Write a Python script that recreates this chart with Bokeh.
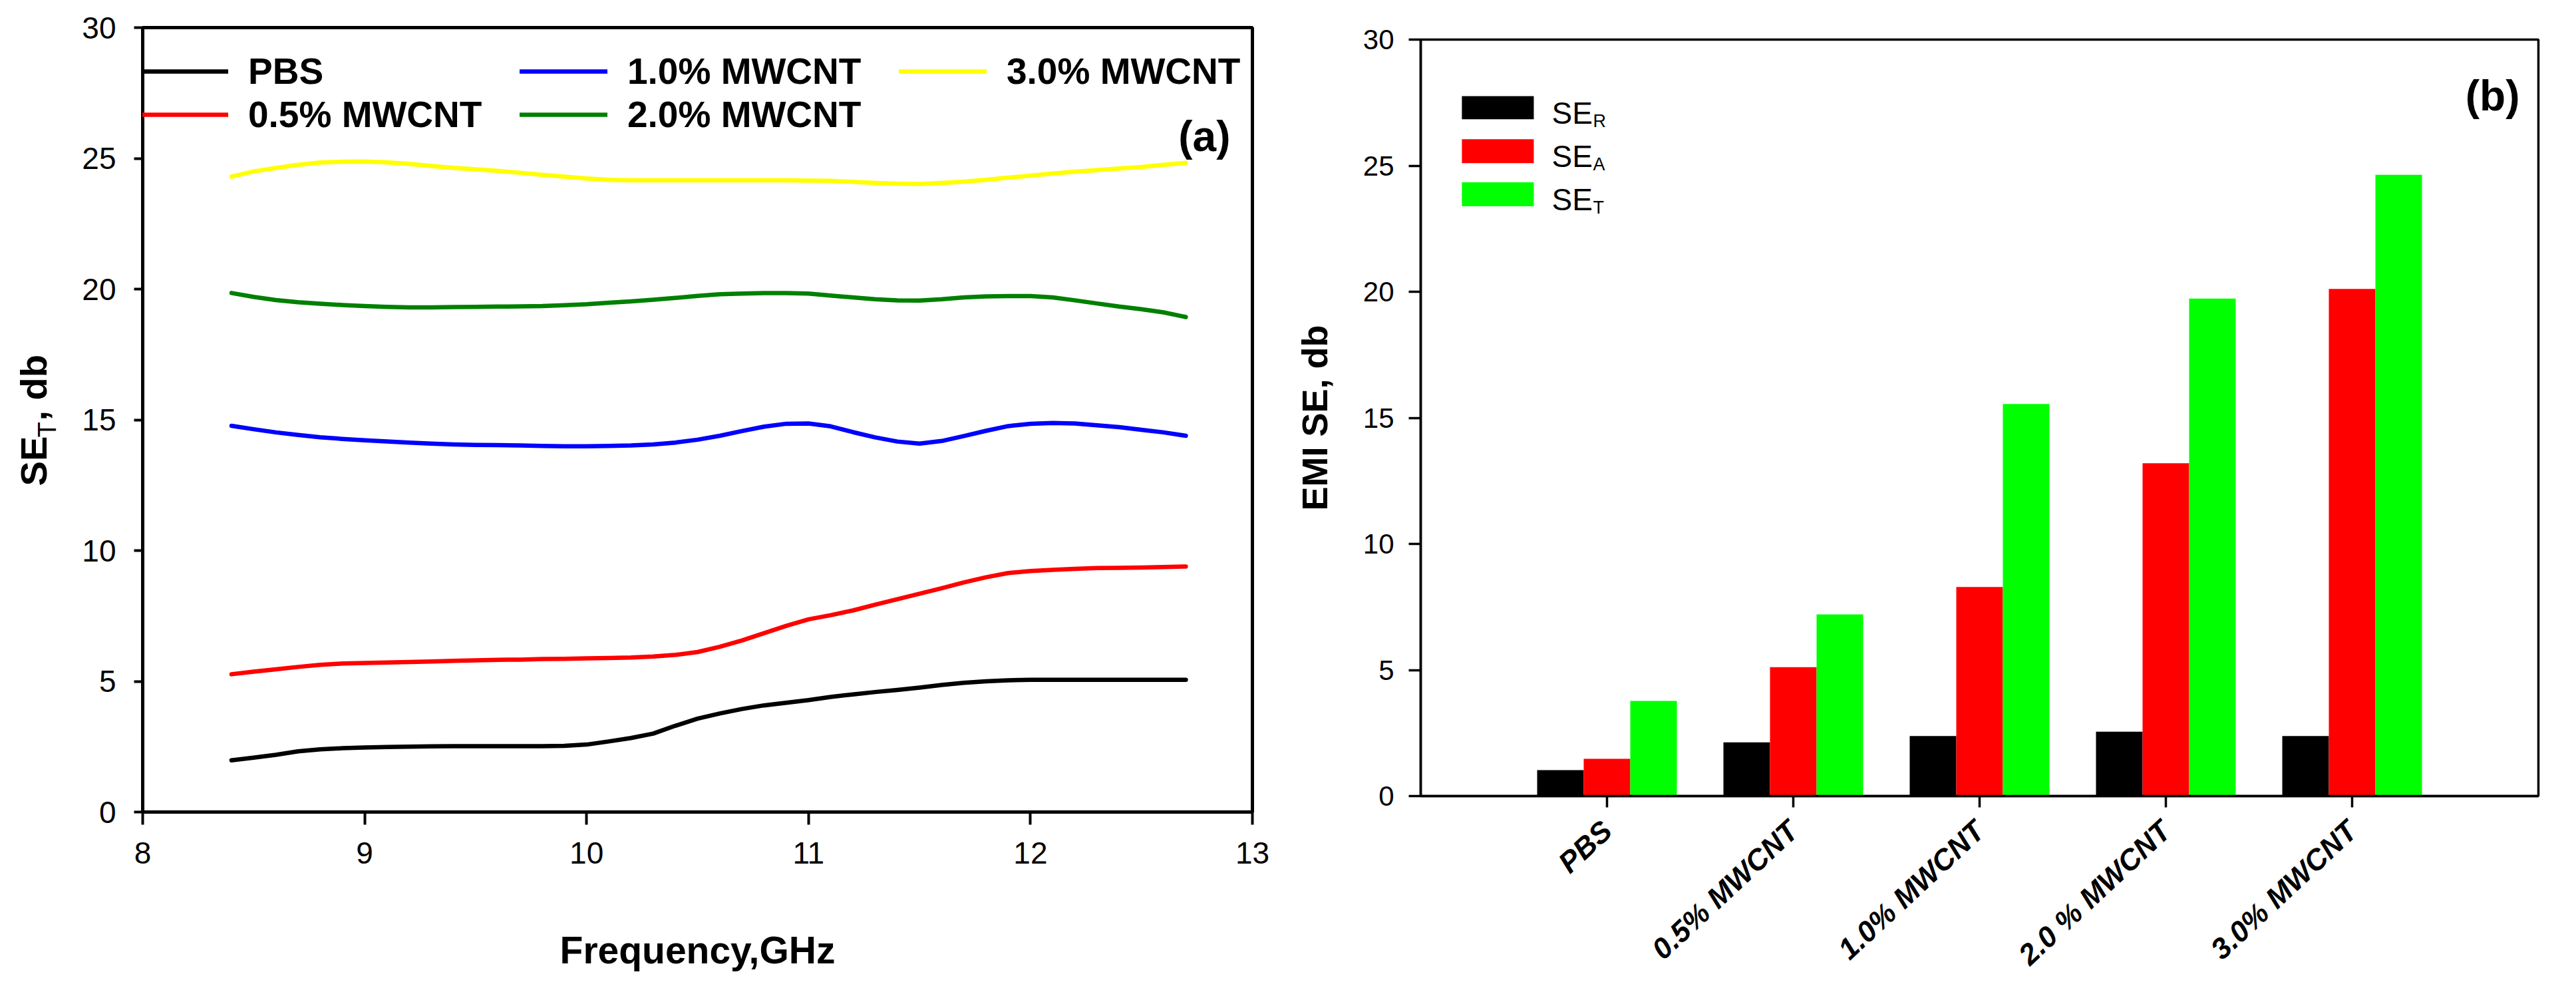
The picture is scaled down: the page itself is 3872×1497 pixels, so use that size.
from bokeh.plotting import figure
from bokeh.models import (Range1d, FactorRange, FixedTicker, Legend, LegendItem,
                          Label, BoxAnnotation, ColumnDataSource)
from bokeh.transform import dodge
from bokeh.layouts import row
from bokeh.embed import file_html
from bokeh.resources import INLINE

FONT = "Liberation Sans"

# ---------------- data: panel (a) ----------------
freq_ghz = [8.4, 8.5, 8.6, 8.7, 8.8, 8.9,
            9.0, 9.1, 9.2, 9.3, 9.4, 9.5, 9.6, 9.7, 9.8, 9.9,
            10.0, 10.1, 10.2, 10.3, 10.4, 10.5, 10.6, 10.7, 10.8, 10.9,
            11.0, 11.1, 11.2, 11.3, 11.4, 11.5, 11.6, 11.7, 11.8, 11.9,
            12.0, 12.1, 12.2, 12.3, 12.4, 12.5, 12.6, 12.7]

se_pbs = [1.98, 2.08, 2.19, 2.32, 2.40, 2.44,
          2.47, 2.49, 2.50, 2.51, 2.52, 2.52, 2.52, 2.52, 2.52, 2.53,
          2.58, 2.70, 2.83, 3.00, 3.30, 3.57, 3.77, 3.94, 4.08, 4.18,
          4.28, 4.40, 4.50, 4.59, 4.67, 4.76, 4.86, 4.94, 5.00, 5.04,
          5.06, 5.06, 5.06, 5.06, 5.06, 5.06, 5.06, 5.06]

se_05 = [5.27, 5.37, 5.46, 5.55, 5.63, 5.68,
         5.70, 5.72, 5.74, 5.76, 5.78, 5.80, 5.82, 5.83, 5.85, 5.86,
         5.88, 5.89, 5.91, 5.95, 6.01, 6.12, 6.32, 6.56, 6.84, 7.12,
         7.37, 7.53, 7.71, 7.93, 8.14, 8.35, 8.56, 8.78, 8.98, 9.14,
         9.22, 9.26, 9.30, 9.33, 9.34, 9.35, 9.37, 9.39]

se_10 = [14.77, 14.64, 14.52, 14.42, 14.33, 14.27,
         14.22, 14.17, 14.13, 14.09, 14.06, 14.04, 14.03, 14.02, 14.00, 13.99,
         13.99, 14.00, 14.02, 14.06, 14.13, 14.24, 14.39, 14.57, 14.74, 14.85,
         14.86, 14.75, 14.53, 14.33, 14.17, 14.09, 14.19, 14.38, 14.58, 14.76,
         14.85, 14.88, 14.86, 14.79, 14.72, 14.62, 14.52, 14.39]

se_20 = [19.85, 19.70, 19.58, 19.50, 19.44, 19.39,
         19.35, 19.32, 19.30, 19.30, 19.31, 19.32, 19.33, 19.34, 19.35, 19.38,
         19.42, 19.48, 19.53, 19.59, 19.66, 19.74, 19.80, 19.83, 19.85, 19.85,
         19.83, 19.75, 19.68, 19.61, 19.57, 19.56, 19.61, 19.68, 19.72, 19.73,
         19.73, 19.68, 19.57, 19.45, 19.33, 19.23, 19.11, 18.93]

se_30 = [24.30, 24.50, 24.63, 24.75, 24.84, 24.87,
         24.88, 24.85, 24.79, 24.71, 24.64, 24.58, 24.52, 24.45, 24.37, 24.30,
         24.23, 24.18, 24.16, 24.16, 24.16, 24.16, 24.16, 24.16, 24.16, 24.16,
         24.15, 24.14, 24.10, 24.06, 24.03, 24.02, 24.06, 24.11, 24.18, 24.26,
         24.34, 24.42, 24.49, 24.55, 24.61, 24.67, 24.75, 24.83]

series_names = ["PBS", "0.5% MWCNT", "1.0% MWCNT", "2.0% MWCNT", "3.0% MWCNT"]
series_keys = ["pbs", "s05", "s10", "s20", "s30"]
series_colors = ["#000000", "#FF0000", "#0000FF", "#008000", "#FFFF00"]
x_ticks_a = [8, 9, 10, 11, 12, 13]
y_ticks = [0, 5, 10, 15, 20, 25, 30]

# ---------------- data: panel (b) ----------------
samples = ["PBS", "0.5% MWCNT", "1.0% MWCNT", "2.0 % MWCNT", "3.0% MWCNT"]
se_r = [1.03, 2.13, 2.38, 2.55, 2.38]
se_a = [1.48, 5.11, 8.29, 13.20, 20.11]
se_t = [3.77, 7.20, 15.55, 19.73, 24.64]
bar_colors = ["#000000", "#FF0000", "#00FF00"]


def lbl(**kw):
    kw.setdefault("text_font", FONT)
    kw.setdefault("text_color", "black")
    kw.setdefault("text_align", "left")
    kw.setdefault("text_baseline", "alphabetic")
    return Label(**kw)


# =============== y-axis title strip for panel (a) ===============
pt = figure(width=120, height=1480, x_range=Range1d(0, 120), y_range=Range1d(0, 30),
            output_backend="svg", toolbar_location=None,
            x_axis_location=None, y_axis_location=None,
            min_border_left=0, min_border_right=0, min_border_top=41,
            min_border_bottom=260, frame_align=False)
pt.xgrid.visible = False
pt.ygrid.visible = False
pt.outline_line_color = None
pt.add_layout(lbl(x=50, y=12.47, text="SE", angle=1.5708,
                  text_font_size="56px", text_font_style="bold"))
pt.add_layout(lbl(x=70, y=14.33, text="T", angle=1.5708,
                  text_font_size="38px"))
pt.add_layout(lbl(x=50, y=14.96, text=", db", angle=1.5708,
                  text_font_size="56px", text_font_style="bold"))

# =============== panel (a) ===============
p1 = figure(width=1800, height=1480, x_range=Range1d(8, 13), y_range=Range1d(0, 30),
            output_backend="svg", toolbar_location=None,
            min_border_left=94, min_border_right=38, min_border_top=41,
            min_border_bottom=260, frame_align=False)
p1.xgrid.visible = False
p1.ygrid.visible = False
p1.outline_line_color = "black"
p1.outline_line_width = 5
p1.outline_line_alpha = 1.0

p1.xaxis.ticker = FixedTicker(ticks=x_ticks_a)
p1.yaxis.ticker = FixedTicker(ticks=y_ticks)
for ax in (p1.xaxis[0], p1.yaxis[0]):
    ax.axis_line_width = 5
    ax.axis_line_color = "black"
    ax.major_tick_line_width = 4
    ax.major_tick_line_color = "black"
    ax.major_tick_in = 0
    ax.minor_tick_line_color = None
    ax.major_label_text_font = FONT
    ax.major_label_text_font_size = "46px"
    ax.major_label_text_color = "black"
p1.xaxis.major_tick_out = 19
p1.yaxis.major_tick_out = 13
p1.xaxis.major_label_standoff = 26
p1.yaxis.major_label_standoff = 27
p1.xaxis.axis_label = "Frequency,GHz"
p1.xaxis.axis_label_text_font = FONT
p1.xaxis.axis_label_text_font_size = "57px"
p1.xaxis.axis_label_text_font_style = "bold"
p1.xaxis.axis_label_text_color = "black"
p1.xaxis.axis_label_standoff = 95

src_a = ColumnDataSource(dict(freq=freq_ghz, pbs=se_pbs, s05=se_05, s10=se_10,
                              s20=se_20, s30=se_30))
renderers = []
for key, col in zip(series_keys, series_colors):
    r = p1.line("freq", key, source=src_a, line_color=col, line_width=6.5,
                line_join="round", line_cap="round")
    renderers.append(r)

legend_a = Legend(
    items=[LegendItem(label=n, renderers=[r]) for n, r in zip(series_names, renderers)],
    location=(-3, 1016), orientation="vertical", nrows=2,
    glyph_width=132, glyph_height=60, label_height=60, label_width=407,
    label_standoff=30, spacing=1, padding=0, margin=0,
    border_line_alpha=0, background_fill_alpha=0,
    label_text_font=FONT, label_text_font_size="55px",
    label_text_font_style="bold", label_text_color="black")
p1.add_layout(legend_a)

p1.add_layout(lbl(x=12.901, y=25.83, text="(a)", text_align="right",
                  text_font_size="64px", text_font_style="bold"))

# =============== panel (b) ===============
p2 = figure(width=1936, height=1480,
            x_range=FactorRange(factors=samples, range_padding=0.5,
                                range_padding_units="absolute"),
            y_range=Range1d(0, 30),
            output_backend="svg", toolbar_location=None,
            min_border_left=215, min_border_right=41, min_border_top=59,
            min_border_bottom=281, frame_align=False)
p2.xgrid.visible = False
p2.ygrid.visible = False
p2.outline_line_color = "black"
p2.outline_line_width = 3.5
p2.outline_line_alpha = 1.0

src_b = ColumnDataSource(dict(sample=samples, se_r=se_r, se_a=se_a, se_t=se_t))
p2.vbar(x=dodge("sample", -0.25, range=p2.x_range), top="se_r", width=0.25,
        source=src_b, fill_color=bar_colors[0], line_color=None)
p2.vbar(x=dodge("sample", 0.0, range=p2.x_range), top="se_a", width=0.25,
        source=src_b, fill_color=bar_colors[1], line_color=None)
p2.vbar(x=dodge("sample", 0.25, range=p2.x_range), top="se_t", width=0.25,
        source=src_b, fill_color=bar_colors[2], line_color=None)

p2.yaxis.ticker = FixedTicker(ticks=y_ticks)
for ax in (p2.xaxis[0], p2.yaxis[0]):
    ax.axis_line_width = 3.5
    ax.axis_line_color = "black"
    ax.major_tick_line_width = 3.5
    ax.major_tick_line_color = "black"
    ax.major_tick_in = 0
    ax.minor_tick_line_color = None
    ax.major_label_text_font = FONT
    ax.major_label_text_color = "black"
p2.yaxis.major_tick_out = 18
p2.yaxis.major_label_text_font_size = "42px"
p2.yaxis.major_label_standoff = 22
p2.yaxis.axis_label = "EMI SE, db"
p2.yaxis.axis_label_text_font = FONT
p2.yaxis.axis_label_text_font_size = "54px"
p2.yaxis.axis_label_text_font_style = "bold"
p2.yaxis.axis_label_text_color = "black"
p2.yaxis.axis_label_standoff = 40

p2.xaxis.major_tick_out = 17
p2.xaxis.major_label_text_font_size = "44px"
p2.xaxis.major_label_text_font_style = "bold italic"
p2.xaxis.major_label_orientation = 0.75
p2.xaxis.major_label_standoff = 28

# legend with subscripts
legend_rows = [("R", 26.84, 27.76, 27.08, 26.76),
               ("A", 25.10, 26.05, 25.37, 25.05),
               ("T", 23.39, 24.34, 23.66, 23.34)]
for (sub, bot, top, base, subbase), col in zip(legend_rows, bar_colors):
    p2.add_layout(BoxAnnotation(left=-0.279, right=0.107, bottom=bot, top=top,
                                fill_color=col, fill_alpha=1.0, line_alpha=0))
    p2.add_layout(lbl(x=0.204, y=base, text="SE", text_font_size="46px"))
    p2.add_layout(lbl(x=0.425, y=subbase, text=sub, text_font_size="27px"))

p2.add_layout(lbl(x=5.40, y=27.76, text="(b)", text_align="right",
                  text_font_size="64px", text_font_style="bold"))

layout = row(pt, p1, p2)
open("out.html", "w").write(file_html(layout, INLINE, title="EMI shielding"))
